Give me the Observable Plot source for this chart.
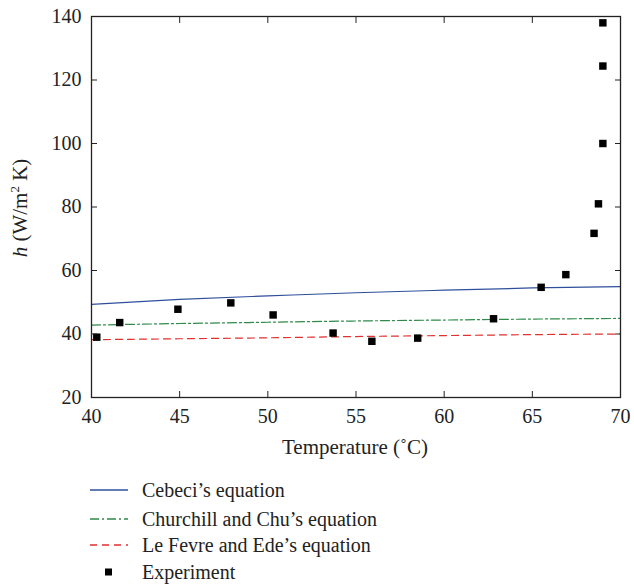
<!DOCTYPE html>
<html>
<head>
<meta charset="utf-8">
<script src="https://cdn.jsdelivr.net/npm/d3@7"></script>
<script src="https://cdn.jsdelivr.net/npm/@observablehq/plot@0.6"></script>
<style>
  body { margin: 0; background: #fff; font-family: "Liberation Serif", "DejaVu Serif", serif; }
  #chart svg { display: block; }
  #legend { position: relative; height: 125px; font-size: 20px; color: #222; }
  .item { position: absolute; left: 88px; display: flex; align-items: center; height: 26px; }
  .item svg { width: 42px; height: 10px; margin-right: 12px; }
</style>
</head>
<body>
<div id="chart"></div>
<div id="legend"></div>
<script>
// Data
const lineTemps = [40, 45, 50, 55, 60, 65, 70];
const cebeci    = [49.3, 50.9, 52.0, 53.0, 53.8, 54.5, 54.9];
const churchill = [42.8, 43.3, 43.7, 44.1, 44.4, 44.7, 44.9];
const lefevre   = [38.2, 38.5, 38.8, 39.2, 39.5, 39.8, 40.0];

const expTemps = [40.3, 41.6, 44.9, 47.9, 50.3, 53.7, 55.9, 58.5, 62.8, 65.5, 66.9, 68.5, 68.75, 69.0, 69.0, 69.0];
const expH     = [39.0, 43.6, 47.8, 49.8, 46.0, 40.3, 37.7, 38.7, 44.8, 54.7, 58.7, 71.7, 81.0, 100.0, 124.4, 138.0];

const xTicks = [40, 45, 50, 55, 60, 65, 70];
const yTicks = [20, 40, 60, 80, 100, 120, 140];

const seriesNames = ["Cebeci\u2019s equation", "Churchill and Chu\u2019s equation", "Le Fevre and Ede\u2019s equation", "Experiment"];
const seriesColors = ["#2f4f9c", "#2e8b4a", "#e0302f", "#000000"];
const seriesDash = [null, "9,3,2,3", "7,5", null];

const toRows = (vals) => lineTemps.map((t, i) => ({x: t, y: vals[i]}));
const expRows = expTemps.map((t, i) => ({x: t, y: expH[i]}));

const fontFamily = "Liberation Serif";
const fs = 20;

const plot = Plot.plot({
  width: 634,
  height: 460,
  marginLeft: 91,
  marginRight: 14,
  marginTop: 16,
  marginBottom: 63,
  style: {fontFamily: "'Liberation Serif', serif", fontSize: fs + "px", color: "#222", background: "#fff"},
  x: {domain: [40, 70], label: null},
  y: {domain: [20, 140], label: null},
  marks: [
    Plot.line(toRows(cebeci), {x: "x", y: "y", stroke: seriesColors[0], strokeWidth: 1.2, curve: "natural"}),
    Plot.line(toRows(churchill), {x: "x", y: "y", stroke: seriesColors[1], strokeWidth: 1.2, strokeDasharray: seriesDash[1], curve: "natural"}),
    Plot.line(toRows(lefevre), {x: "x", y: "y", stroke: seriesColors[2], strokeWidth: 1.2, strokeDasharray: seriesDash[2], curve: "natural"}),
    Plot.dot(expRows, {x: "x", y: "y", symbol: "square", r: 4.2, fill: "#000", stroke: "none"}),
    // inward ticks on all four sides
    Plot.axisX({ticks: xTicks, anchor: "bottom", tickSize: -6, tickFormat: () => ""}),
    Plot.axisX({ticks: xTicks, anchor: "top", tickSize: -6, tickFormat: () => ""}),
    Plot.axisY({ticks: yTicks, anchor: "left", tickSize: -6, tickFormat: () => ""}),
    Plot.axisY({ticks: yTicks, anchor: "right", tickSize: -6, tickFormat: () => ""}),
    // tick labels
    Plot.text(xTicks, {x: d => d, y: 20, dy: 19, text: d => String(d), fontSize: fs, fontFamily, fill: "#222", lineAnchor: "middle"}),
    Plot.text(yTicks, {x: 40, y: d => d, dx: -10, text: d => String(d), fontSize: fs, fontFamily, fill: "#222", textAnchor: "end", lineAnchor: "middle"}),
    Plot.frame({stroke: "#222", strokeWidth: 1.3})
  ]
});
document.getElementById("chart").appendChild(plot);

const svg = d3.select(plot);
// x-axis title
svg.append("text")
  .attr("x", 355).attr("y", 454)
  .attr("text-anchor", "middle")
  .attr("font-family", fontFamily).attr("font-size", 21).attr("fill", "#222")
  .text("Temperature (\u02DAC)");
// y-axis title
const yt = svg.append("text")
  .attr("transform", "translate(27,208) rotate(-90)")
  .attr("text-anchor", "middle")
  .attr("font-family", fontFamily).attr("font-size", 21).attr("fill", "#222");
yt.append("tspan").attr("font-style", "italic").text("h");
yt.append("tspan").text(" (W/m");
yt.append("tspan").attr("dy", -8).attr("font-size", 13).text("2");
yt.append("tspan").attr("dy", 8).text(" K)");

// legend
const legend = d3.select("#legend");
const tops = [17, 46, 72, 99];
seriesNames.forEach((name, i) => {
  const item = legend.append("div").attr("class", "item").style("top", tops[i] + "px");
  const s = item.append("svg");
  if (i < 3) {
    s.append("line").attr("x1", 2).attr("x2", 40).attr("y1", 5).attr("y2", 5)
      .attr("stroke", seriesColors[i]).attr("stroke-width", 1.4)
      .attr("stroke-dasharray", seriesDash[i]);
  } else {
    s.append("rect").attr("x", 17).attr("y", 1.5).attr("width", 7).attr("height", 7).attr("fill", "#000");
  }
  item.append("span").text(name);
});
</script>
</body>
</html>
